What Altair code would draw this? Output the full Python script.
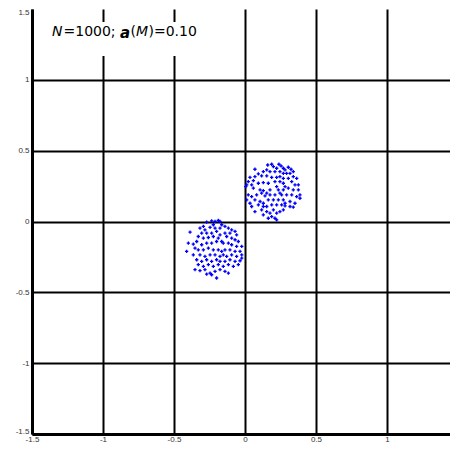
import altair as alt
import pandas as pd

# Cluster A (upper right)
ax = [0.160,0.188,0.200,0.239,0.254,0.223,0.270,0.282,0.305,0.324,0.153,0.129,0.176,0.211,0.246,0.270,0.293,0.317,0.340,
      0.070,0.094,0.070,0.035,0.117,0.153,0.188,0.223,0.246,0.270,0.305,0.340,0.364,0.023,0.059,0.047,0.012,0.005,0.094,
      0.129,0.164,0.211,0.246,0.270,0.282,0.329,0.352,0.376,0.059,0.106,0.129,0.153,0.176,0.223,0.235,0.246,0.270,0.305,
      0.340,0.376,0.387,0.023,0.047,0.082,0.117,0.141,0.176,0.211,0.258,0.293,0.329,0.364,0.387,0.012,0.070,0.106,0.129,
      0.164,0.200,0.235,0.270,0.282,0.317,0.352,0.035,0.047,0.094,0.129,0.153,0.188,0.223,0.258,0.282,0.317,0.340,0.070,
      0.117,0.153,0.176,0.200,0.223,0.246,0.270,0.129,0.188,0.211,0.223,0.164]
ay = [0.399,0.404,0.387,0.404,0.392,0.376,0.376,0.364,0.383,0.369,0.364,0.352,0.352,0.352,0.352,0.340,0.340,0.340,0.352,
      0.369,0.336,0.317,0.312,0.322,0.322,0.312,0.312,0.317,0.305,0.305,0.317,0.305,0.282,0.289,0.258,0.258,0.246,0.270,
      0.275,0.270,0.282,0.282,0.270,0.246,0.282,0.258,0.258,0.235,0.223,0.218,0.200,0.223,0.246,0.223,0.200,0.223,0.235,
      0.223,0.223,0.188,0.188,0.176,0.188,0.200,0.181,0.188,0.188,0.188,0.188,0.188,0.176,0.164,0.153,0.153,0.141,0.129,
      0.153,0.153,0.153,0.153,0.129,0.141,0.129,0.129,0.106,0.117,0.106,0.106,0.117,0.117,0.117,0.110,0.106,0.101,0.070,
      0.082,0.070,0.059,0.082,0.059,0.070,0.082,0.047,0.035,0.023,0.012,0.023]

# Cluster B (lower left)
bx = [-0.270,-0.235,-0.211,-0.188,-0.176,-0.223,-0.164,-0.293,-0.317,-0.282,-0.246,-0.211,-0.176,-0.141,-0.117,-0.094,
      -0.387,-0.305,-0.270,-0.235,-0.200,-0.176,-0.141,-0.106,-0.070,-0.059,-0.329,-0.293,-0.258,-0.223,-0.188,-0.164,
      -0.129,-0.094,-0.070,-0.047,-0.399,-0.364,-0.340,-0.305,-0.270,-0.235,-0.200,-0.153,-0.117,-0.094,-0.059,-0.023,
      -0.411,-0.352,-0.329,-0.293,-0.258,-0.223,-0.188,-0.164,-0.141,-0.106,-0.070,-0.035,-0.023,-0.364,-0.317,-0.282,
      -0.246,-0.211,-0.176,-0.153,-0.129,-0.094,-0.059,-0.023,-0.340,-0.305,-0.270,-0.235,-0.200,-0.176,-0.141,-0.106,
      -0.070,-0.035,-0.329,-0.293,-0.258,-0.223,-0.188,-0.153,-0.117,-0.082,-0.047,-0.352,-0.317,-0.282,-0.246,-0.211,
      -0.176,-0.141,-0.117,-0.200,-0.270,-0.235]
by = [-0.005,0.005,0.000,0.007,0.000,-0.023,-0.023,-0.035,-0.047,-0.059,-0.042,-0.047,-0.047,-0.035,-0.047,-0.059,
      -0.075,-0.082,-0.082,-0.082,-0.070,-0.094,-0.082,-0.082,-0.070,-0.094,-0.106,-0.117,-0.113,-0.106,-0.117,-0.141,
      -0.106,-0.117,-0.129,-0.141,-0.153,-0.160,-0.141,-0.164,-0.153,-0.153,-0.141,-0.153,-0.153,-0.164,-0.176,-0.176,
      -0.211,-0.188,-0.200,-0.200,-0.188,-0.200,-0.200,-0.211,-0.200,-0.200,-0.211,-0.211,-0.235,-0.235,-0.235,-0.246,
      -0.235,-0.235,-0.246,-0.235,-0.246,-0.235,-0.246,-0.258,-0.270,-0.282,-0.270,-0.282,-0.270,-0.282,-0.282,-0.270,
      -0.282,-0.277,-0.305,-0.317,-0.305,-0.317,-0.305,-0.317,-0.305,-0.317,-0.305,-0.340,-0.347,-0.340,-0.364,-0.352,
      -0.340,-0.352,-0.364,-0.399,-0.371,-0.376]

tick_values = [-1.5, -1, -0.5, 0, 0.5, 1, 1.5]

pts = pd.DataFrame({"x": ax + bx, "y": ay + by})
one = pd.DataFrame({"k": [0]})

font = "Liberation Sans"
afont = "DejaVu Sans"
offset_cond = {"condition": [{"test": "datum.value == 1.5", "value": 3},
                             {"test": "datum.value == -1.5", "value": -3}], "value": 0}

xaxis = alt.Axis(values=tick_values, title=None, grid=True, gridColor="black", gridWidth=2, gridOpacity=1,
                 domainColor="black", domainWidth=3, ticks=False, labelFont=font, labelFontSize=8,
                 labelColor="#333", labelPadding=1, labelExpr="'' + datum.value", labelFlush=False,
                 labelOverlap=False)
yaxis = alt.Axis(values=tick_values, title=None, grid=True, gridColor="black", gridWidth=2,
                 gridOpacity=alt.condition("datum.value == 1.5", alt.value(0), alt.value(1)),
                 domainColor="black", domainWidth=3, ticks=False, labelFont=font, labelFontSize=8,
                 labelColor="#333", labelPadding=3, labelExpr="'' + datum.value", labelFlush=False,
                 labelOverlap=False, labelOffset=offset_cond)

xs = alt.Scale(domain=[-1.5, 1.5], nice=False, zero=False)
ys = alt.Scale(domain=[-1.5, 1.5], nice=False, zero=False)

points = alt.Chart(pts).mark_point(shape="cross", filled=True, size=11, color="#0000ff", opacity=1).encode(
    x=alt.X("x:Q", scale=xs, axis=xaxis),
    y=alt.Y("y:Q", scale=ys, axis=yaxis),
)

box = alt.Chart(one).mark_rect(color="white").encode(
    x=alt.value(6), x2=alt.value(183), y=alt.value(13), y2=alt.value(47)
)

def seg(text, x, y, size=14, style="normal", weight="normal"):
    return alt.Chart(one).mark_text(text=text, align="left", baseline="alphabetic", font=afont,
                                    fontSize=size, fontStyle=style, fontWeight=weight, color="black").encode(
        x=alt.value(x), y=alt.value(y))

label = (seg("N", 20, 27, style="italic") + seg("=1000;", 31.5, 27) +
         seg("a", 88, 29, size=15, style="italic", weight="bold") + seg("(", 98.5, 27) +
         seg("M", 104, 27, style="italic") + seg(")=0.10", 116.5, 27))

chart = alt.layer(points, box, label).properties(
    width=426, height=425, autosize=alt.AutoSizeParams(type="none"),
    padding={"left": 24, "top": 1, "right": -8, "bottom": 8},
).configure_view(strokeWidth=0)

chart.save("out.html", embed_options={"renderer": "svg", "actions": False})
